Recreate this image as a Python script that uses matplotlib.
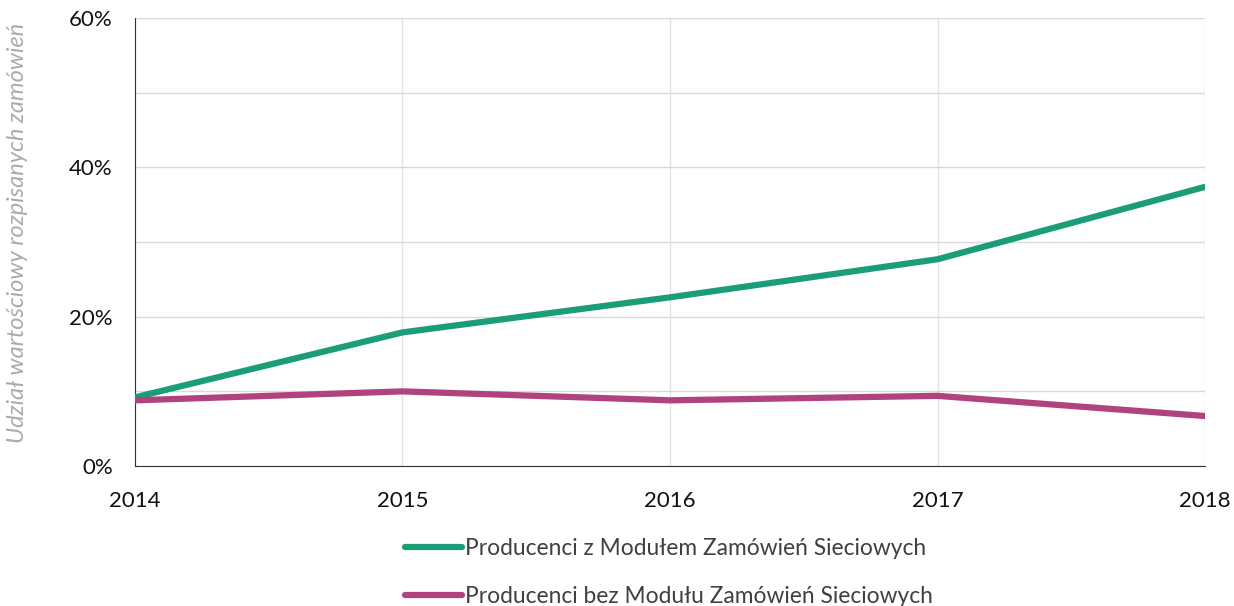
import matplotlib
matplotlib.use("Agg")
import matplotlib.pyplot as plt
from matplotlib.ticker import MultipleLocator, FuncFormatter

years = [2014, 2015, 2016, 2017, 2018]
with_module = [9.2, 17.9, 22.6, 27.7, 37.4]
without_module = [8.8, 10.0, 8.8, 9.4, 6.7]
labels = ["Producenci z Modułem Zamówień Sieciowych",
          "Producenci bez Modułu Zamówień Sieciowych"]
ylabel = "Udział wartościowy rozpisanych zamówień"

plt.rcParams['font.family'] = ['Lato', 'DejaVu Sans']

fig = plt.figure(figsize=(12.34, 6.06), dpi=100)
ax = fig.add_axes([0.1094, 0.231, 0.8671, 0.739])

green = "#1b9e77"
purple = "#b0427e"
ax.plot(years, with_module, color=green, lw=4.5, solid_capstyle='round', label=labels[0], zorder=3)
ax.plot(years, without_module, color=purple, lw=4.5, solid_capstyle='round', label=labels[1], zorder=3)

ax.set_xlim(2014, 2018)
ax.set_ylim(0, 60)
ax.set_xticks(years)
ax.yaxis.set_major_locator(MultipleLocator(20))
ax.yaxis.set_minor_locator(MultipleLocator(10))
ax.yaxis.set_major_formatter(FuncFormatter(lambda v, p: f"{int(v)}%"))
ax.grid(True, which='both', axis='y', color='#d9d9d9', lw=1)
ax.grid(True, axis='x', color='#e3e3e3', lw=1)
ax.set_axisbelow(True)
for s in ['top', 'right']:
    ax.spines[s].set_visible(False)
ax.spines['left'].set_color('#333333')
ax.spines['bottom'].set_color('#333333')
ax.tick_params(axis='both', which='both', length=0, labelsize=16, colors='#111111')
ax.tick_params(axis='x', pad=18)
ax.tick_params(axis='y', pad=16)
ax.set_ylabel(ylabel, fontsize=17, color='#ababab', style='italic', fontweight='normal')
ax.yaxis.set_label_coords(-0.1, 0.52)

leg = fig.legend(loc='upper center', bbox_to_anchor=(0.542, 0.128), ncol=1, frameon=False,
                 fontsize=16.4, handlelength=2.5, handletextpad=0.1, labelspacing=1.2,
                 borderaxespad=0.0)
for t in leg.get_texts():
    t.set_color('#404040')
for h in leg.legend_handles:
    h.set_linewidth(4.5)

fig.savefig("out.png", dpi=100)
